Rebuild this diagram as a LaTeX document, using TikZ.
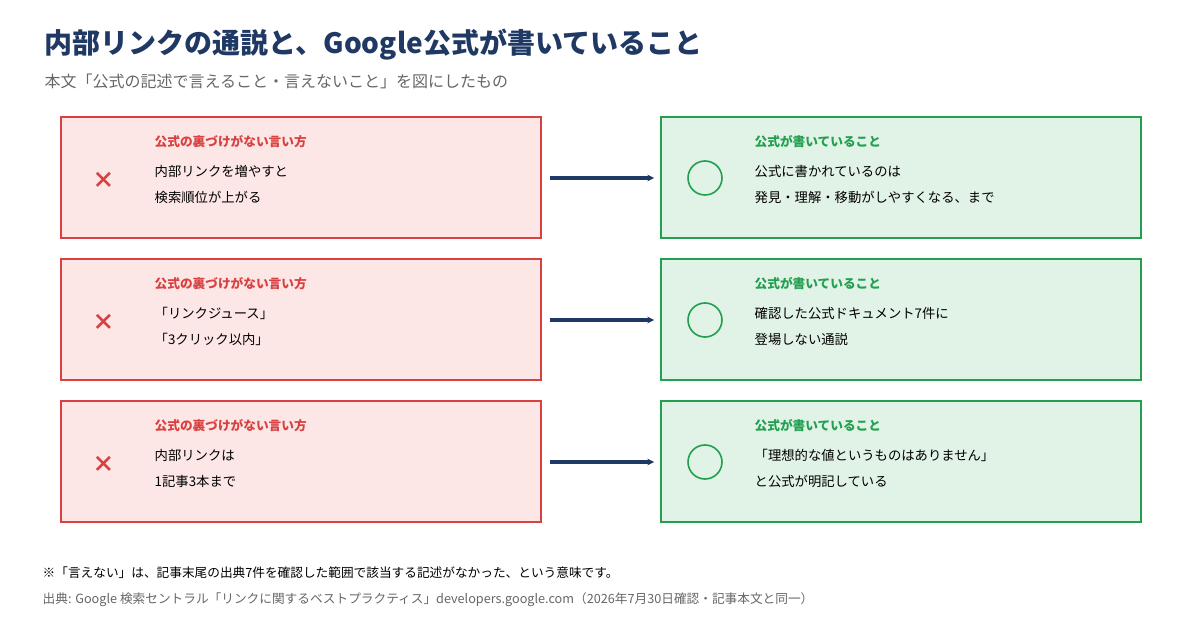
\documentclass[tikz,border=0pt]{standalone}
\usepackage{fontspec}
\setmainfont{Noto Sans CJK JP}
\usetikzlibrary{arrows.meta}
\definecolor{navy}{HTML}{1F3864}
\definecolor{badred}{HTML}{D94141}
\definecolor{badfill}{HTML}{FCE6E6}
\definecolor{okgreen}{HTML}{22A050}
\definecolor{okfill}{HTML}{E1F2E6}
\definecolor{greytxt}{HTML}{666666}

\begin{document}
\begin{tikzpicture}[x=0.75pt, y=-0.75pt,
  badbox/.style={draw=badred, fill=badfill, line width=1.2pt},
  okbox/.style={draw=okgreen, fill=okfill, line width=1.2pt},
  tag/.style={anchor=west, font=\fontsize{9.5}{11}\selectfont\bfseries},
  body/.style={anchor=west, align=left, font=\fontsize{10}{19.5}\selectfont},
  link/.style={draw=navy, line width=2.4pt, -{Stealth[length=5pt,width=5pt]}}]
  \useasboundingbox (0,0) rectangle (1202,630);

  % heading
  \node[anchor=west, text=navy, font=\fontsize{21}{24}\selectfont\bfseries] (title) at (40,45) {内部リンクの通説と、Google公式が書いていること};
  \node[anchor=west, text=greytxt, font=\fontsize{12}{14}\selectfont] (sub) at (40,81) {本文「公式の記述で言えること・言えないこと」を図にしたもの};

  % rows
  \foreach \y/\l/\r [count=\i] in {
    117/{内部リンクを増やすと\\検索順位が上がる}/{公式に書かれているのは\\発見・理解・移動がしやすくなる、まで},
    259/{「リンクジュース」\\「3クリック以内」}/{確認した公式ドキュメント7件に\\登場しない通説},
    401/{内部リンクは\\1記事3本まで}/{「理想的な値というものはありません」\\と公式が明記している}} {
    \draw[badbox] (61,\y) rectangle (541,\y+121);
    \draw[okbox] (661,\y) rectangle (1141,\y+121);
    \node[text=badred, font=\fontsize{17}{17}\selectfont\bfseries] (x\i) at (104,\y+63) {×};
    \draw[okgreen, line width=1.2pt] (705,\y+61) circle (17);
    \node[tag, text=badred] (bt\i) at (150,\y+25) {公式の裏づけがない言い方};
    \node[tag, text=okgreen] (gt\i) at (750,\y+25) {公式が書いていること};
    \node[body] (bl\i) at (150,\y+67) {\l};
    \node[body] (gl\i) at (750,\y+67) {\r};
    \coordinate (a\i) at (550,\y+61);
    \coordinate (b\i) at (654,\y+61);
    \draw[link] (a\i) -- (b\i);
  }

  % notes
  \node[anchor=west, font=\fontsize{9.5}{11}\selectfont] (note) at (38,573) {※「言えない」は、記事末尾の出典7件を確認した範囲で該当する記述がなかった、という意味です。};
  \node[anchor=west, text=greytxt, font=\fontsize{9.5}{11}\selectfont] (src) at (38,600) {出典: Google 検索セントラル「リンクに関するベストプラクティス」developers.google.com（2026年7月30日確認・記事本文と同一）};
\end{tikzpicture}
\end{document}
